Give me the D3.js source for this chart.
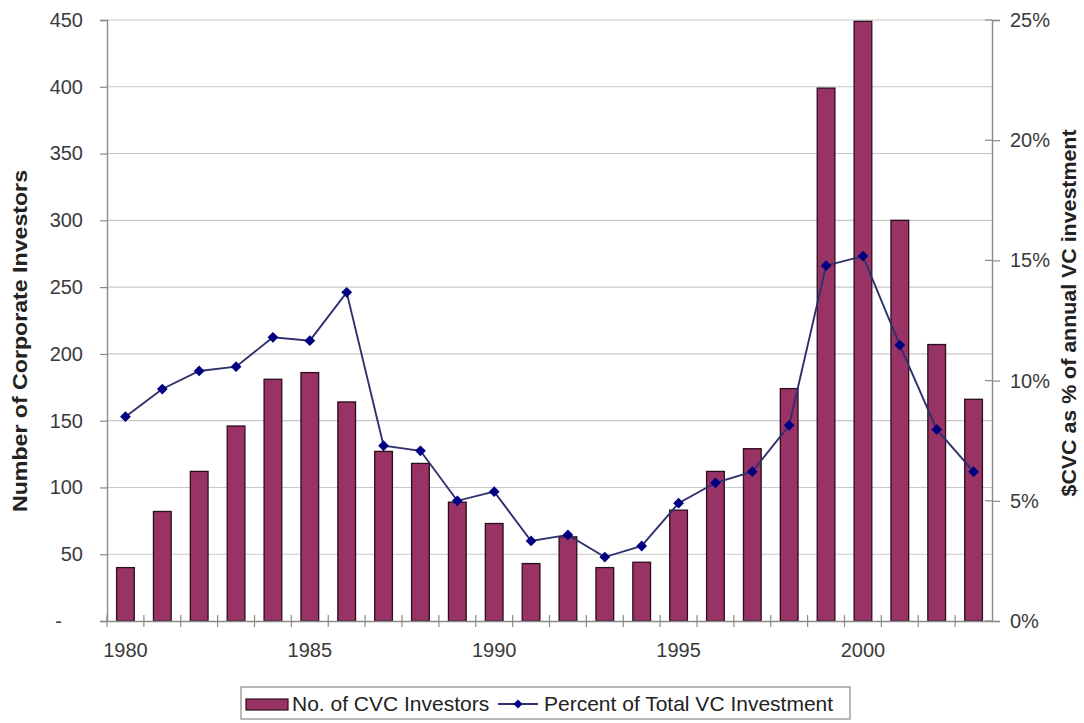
<!DOCTYPE html>
<html>
<head>
<meta charset="utf-8">
<script src="https://d3js.org/d3.v7.min.js"></script>
<style>
  body { margin: 0; background: #fff; }
  text { font-family: "Liberation Sans", Arial, sans-serif; }
</style>
</head>
<body>
<div id="chart"></div>
<script>
var years = [1980, 1981, 1982, 1983, 1984, 1985, 1986, 1987, 1988, 1989, 1990, 1991,
             1992, 1993, 1994, 1995, 1996, 1997, 1998, 1999, 2000, 2001, 2002, 2003];
var investors = [40, 82, 112, 146, 181, 186, 164, 127, 118, 89, 73, 43,
                 63, 40, 44, 83, 112, 129, 174, 399, 449, 300, 207, 166];
var percent = [8.5, 9.65, 10.4, 10.58, 11.8, 11.66, 13.67, 7.29, 7.08, 5.0, 5.38, 3.33,
               3.58, 2.66, 3.12, 4.9, 5.75, 6.21, 8.14, 14.78, 15.18, 11.48, 7.97, 6.21];
var leftTicks = [0, 50, 100, 150, 200, 250, 300, 350, 400, 450];
var rightTicks = [0, 5, 10, 15, 20, 25];
var yearLabels = [1980, 1985, 1990, 1995, 2000];
var seriesNames = ["No. of CVC Investors", "Percent of Total VC Investment"];

var W = 1084, H = 723;
var margin = {top: 20, right: 92, bottom: 102, left: 107},
    width = W - margin.left - margin.right,
    height = H - margin.top - margin.bottom;

var barColor = "#993366", lineColor = "#000080", lineStroke = "#30306e";

var svg = d3.select("#chart").append("svg")
    .attr("width", W)
    .attr("height", H);

var g = svg.append("g")
    .attr("transform", "translate(" + margin.left + "," + margin.top + ")");

var x = d3.scaleBand().domain(years).range([0, width])
    .paddingInner(0.52).paddingOuter(0.26);
var yL = d3.scaleLinear().domain([0, 450]).range([height, 0]);
var yR = d3.scaleLinear().domain([0, 25]).range([height, 0]);

// gridlines
g.append("g").selectAll("line")
    .data(leftTicks.slice(1))
    .enter().append("line")
    .attr("x1", 0).attr("x2", width)
    .attr("y1", function(d){ return yL(d); })
    .attr("y2", function(d){ return yL(d); })
    .attr("stroke", "#c8c8c8")
    .attr("stroke-width", 1.1);

// bars
var data = years.map(function(y, i){ return {year: y, n: investors[i], p: percent[i]}; });

g.selectAll(".bar")
    .data(data)
    .enter().append("rect")
    .attr("class", "bar")
    .attr("x", function(d){ return x(d.year); })
    .attr("width", x.bandwidth())
    .attr("y", function(d){ return yL(d.n); })
    .attr("height", function(d){ return height - yL(d.n); })
    .attr("fill", barColor)
    .attr("stroke", "#2b0d1c")
    .attr("stroke-width", 1.3);

// axes
var leftAxis = g.append("g")
    .call(d3.axisLeft(yL).tickValues(leftTicks).tickSize(7).tickPadding(17)
        .tickFormat(function(d){ return d === 0 ? "-" : d; }));
leftAxis.selectAll("text").filter(function(d){ return d === 0; }).attr("dx", -21);

var rightAxis = g.append("g")
    .attr("transform", "translate(" + width + ",0)")
    .call(d3.axisRight(yR).tickValues(rightTicks).tickSize(8).tickPadding(10)
        .tickFormat(function(d){ return d + "%"; }));

var bottomAxis = g.append("g")
    .attr("transform", "translate(0," + height + ")")
    .call(d3.axisBottom(x).tickValues(yearLabels).tickSize(0).tickPadding(22));

[leftAxis, rightAxis, bottomAxis].forEach(function(a){
    a.select(".domain").attr("stroke", "#8a8a8a").attr("stroke-width", 1.4);
    a.selectAll(".tick line").attr("stroke", "#8a8a8a").attr("stroke-width", 1.2);
    a.selectAll("text").attr("font-size", 20).attr("fill", "#3a3a3a");
});

// inner ticks on the right axis and category separators on the bottom axis
g.append("g").selectAll("line")
    .data(rightTicks)
    .enter().append("line")
    .attr("x1", width - 7).attr("x2", width)
    .attr("y1", function(d){ return yR(d); })
    .attr("y2", function(d){ return yR(d); })
    .attr("stroke", "#8a8a8a").attr("stroke-width", 1.2);

g.append("g").selectAll("line")
    .data(years)
    .enter().append("line")
    .attr("x1", function(d){ return x(d) - x.step() * x.paddingOuter(); })
    .attr("x2", function(d){ return x(d) - x.step() * x.paddingOuter(); })
    .attr("y1", height - 6).attr("y2", height + 6)
    .attr("stroke", "#8a8a8a").attr("stroke-width", 1.2);

// line series
var line = d3.line()
    .x(function(d){ return x(d.year) + x.bandwidth() / 2; })
    .y(function(d){ return yR(d.p); });

g.append("path")
    .datum(data)
    .attr("d", line)
    .attr("fill", "none")
    .attr("stroke", lineStroke)
    .attr("stroke-width", 1.9);

var diamond = d3.symbol().type(d3.symbolSquare).size(58);

g.selectAll(".pt")
    .data(data)
    .enter().append("path")
    .attr("class", "pt")
    .attr("transform", function(d){
        return "translate(" + (x(d.year) + x.bandwidth() / 2) + "," + yR(d.p) + ") rotate(45)";
    })
    .attr("d", diamond)
    .attr("fill", lineColor);

// axis titles
svg.append("text")
    .attr("transform", "translate(27,341) rotate(-90)")
    .attr("text-anchor", "middle")
    .attr("font-size", 20)
    .attr("font-weight", "bold")
    .attr("fill", "#222")
    .attr("textLength", 342)
    .attr("lengthAdjust", "spacingAndGlyphs")
    .text("Number of Corporate Investors");

svg.append("text")
    .attr("transform", "translate(1076,313) rotate(-90)")
    .attr("text-anchor", "middle")
    .attr("font-size", 20)
    .attr("font-weight", "bold")
    .attr("fill", "#222")
    .attr("textLength", 367)
    .attr("lengthAdjust", "spacingAndGlyphs")
    .text("$CVC as % of annual VC investment");

// legend
var lg = svg.append("g").attr("transform", "translate(241,687)");
lg.append("rect")
    .attr("width", 609).attr("height", 32)
    .attr("fill", "#fff").attr("stroke", "#8a8a8a").attr("stroke-width", 1.2);
lg.append("rect")
    .attr("x", 5).attr("y", 12).attr("width", 42).attr("height", 11)
    .attr("fill", barColor).attr("stroke", "#2b0d1c").attr("stroke-width", 1.2);
lg.append("text")
    .attr("x", 51).attr("y", 24)
    .attr("font-size", 21).attr("fill", "#222")
    .text(seriesNames[0]);
lg.append("line")
    .attr("x1", 257).attr("x2", 297).attr("y1", 17).attr("y2", 17)
    .attr("stroke", lineStroke).attr("stroke-width", 1.8);
lg.append("path")
    .attr("transform", "translate(277,17) rotate(45)")
    .attr("d", d3.symbol().type(d3.symbolSquare).size(40))
    .attr("fill", lineColor);
lg.append("text")
    .attr("x", 303).attr("y", 24)
    .attr("font-size", 21).attr("fill", "#222")
    .text(seriesNames[1]);
</script>
</body>
</html>
